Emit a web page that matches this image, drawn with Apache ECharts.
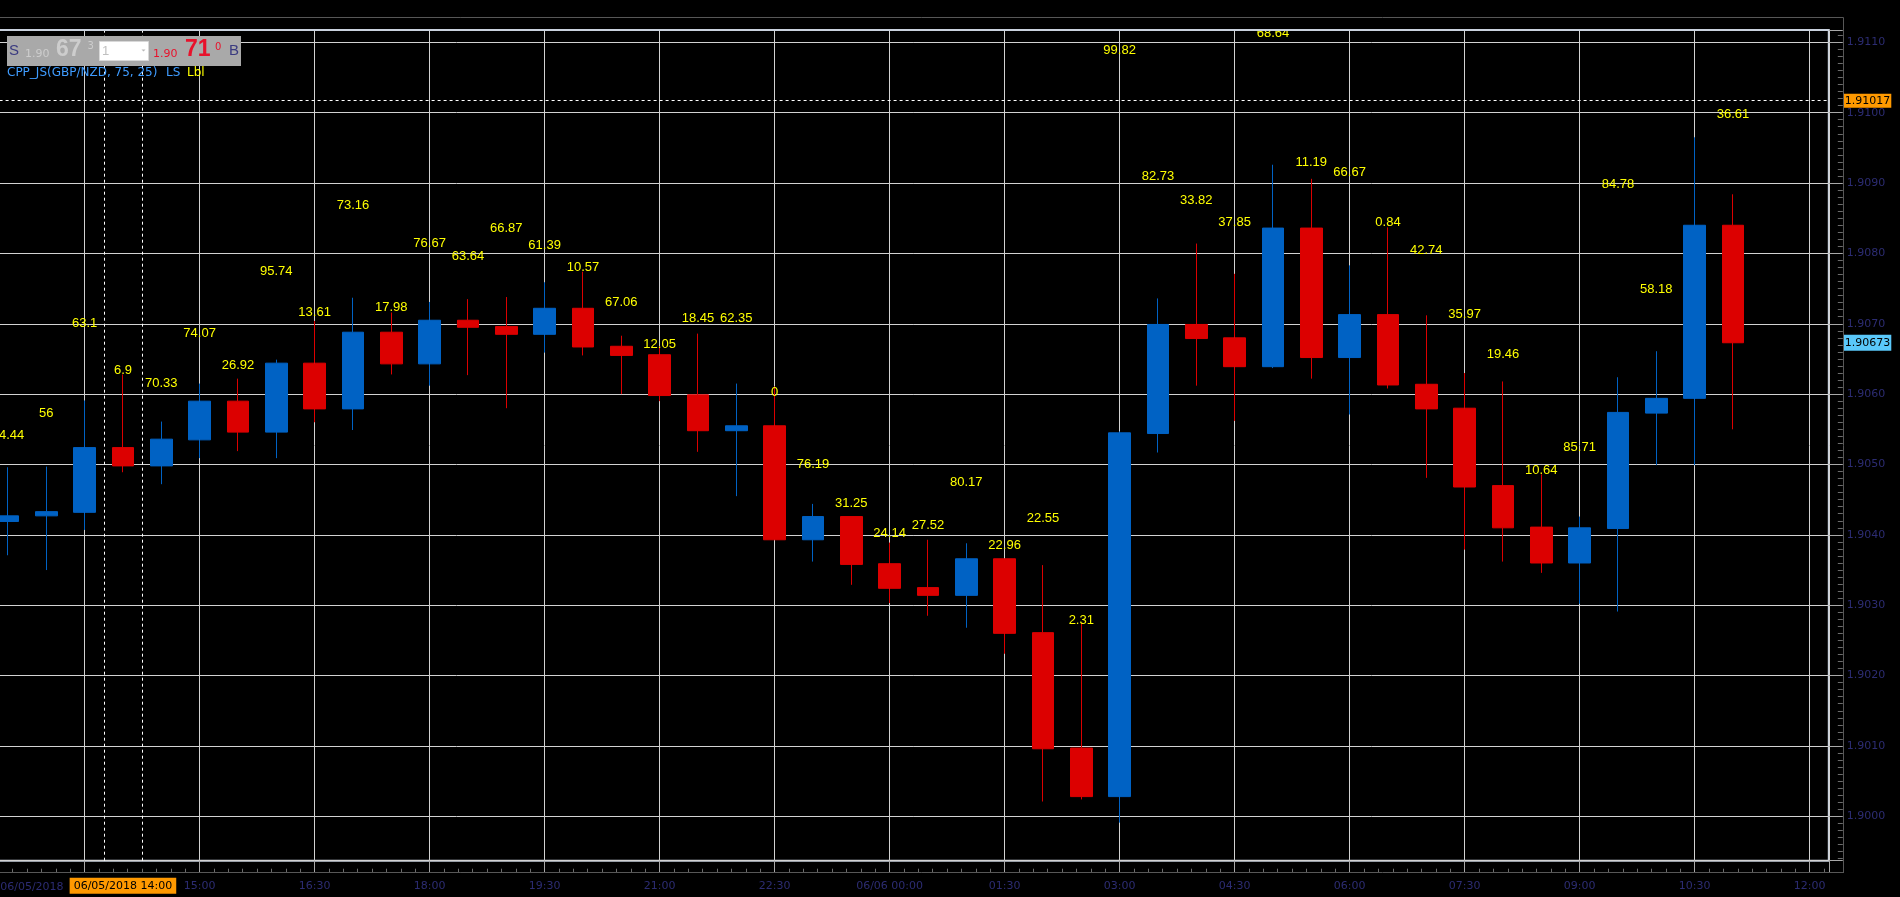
<!DOCTYPE html>
<html>
<head>
<meta charset="utf-8">
<script src="https://cdn.jsdelivr.net/npm/echarts@6.0.0/dist/echarts.min.js"></script>
<style>
html,body{margin:0;padding:0;background:#000;}
#chart{width:1900px;height:897px;}
</style>
</head>
<body>
<div id="chart"></div>
<script>
// ---- data (30-minute GBP/NZD candles) ----
const times = ['12:30','13:00','13:30','14:00','14:30','15:00','15:30','16:00','16:30','17:00','17:30','18:00','18:30','19:00','19:30','20:00','20:30','21:00','21:30','22:00','22:30','23:00','23:30',
               '00:00','00:30','01:00','01:30','02:00','02:30','03:00','03:30','04:00','04:30','05:00','05:30','06:00','06:30','07:00','07:30','08:00','08:30','09:00','09:30','10:00','10:30','11:00'];
const opens  = [1.90419,1.90427,1.90432,1.90524,1.90498,1.90535,1.90590,1.90546,1.90644,1.90579,1.90688,1.90643,1.90705,1.90696,1.90685,1.90722,1.90668,1.90656,1.90599,1.90548,1.90555,1.90393,1.90426,
                1.90359,1.90325,1.90314,1.90366,1.90261,1.90097,1.90028,1.90544,1.90699,1.90680,1.90639,1.90836,1.90652,1.90713,1.90614,1.90580,1.90470,1.90411,1.90360,1.90409,1.90573,1.90594,1.90840];
const closes = [1.90427,1.90433,1.90524,1.90498,1.90536,1.90590,1.90546,1.90644,1.90579,1.90688,1.90643,1.90705,1.90695,1.90685,1.90722,1.90667,1.90655,1.90598,1.90548,1.90555,1.90393,1.90426,1.90358,
                1.90324,1.90314,1.90366,1.90260,1.90096,1.90028,1.90545,1.90699,1.90679,1.90639,1.90836,1.90652,1.90713,1.90613,1.90579,1.90468,1.90410,1.90360,1.90410,1.90574,1.90594,1.90840,1.90673];
const highs  = [1.90496,1.90497,1.90591,1.90628,1.90561,1.90615,1.90622,1.90649,1.90704,1.90737,1.90716,1.90731,1.90735,1.90738,1.90759,1.90774,1.90683,1.90668,1.90686,1.90615,1.90611,1.90444,1.90426,
                1.90389,1.90393,1.90388,1.90366,1.90357,1.90275,1.90547,1.90736,1.90814,1.90771,1.90926,1.90906,1.90783,1.90837,1.90712,1.90630,1.90618,1.90486,1.90426,1.90624,1.90661,1.90965,1.90884];
const lows   = [1.90371,1.90350,1.90407,1.90489,1.90472,1.90509,1.90519,1.90509,1.90560,1.90549,1.90628,1.90612,1.90627,1.90580,1.90659,1.90655,1.90600,1.90590,1.90518,1.90455,1.90393,1.90362,1.90329,
                1.90303,1.90285,1.90268,1.90231,1.90021,1.90024,1.89991,1.90517,1.90612,1.90562,1.90637,1.90622,1.90571,1.90608,1.90481,1.90379,1.90362,1.90346,1.90302,1.90291,1.90499,1.90499,1.90550];
// indicator labels (text and price level they are printed at)
const labelTexts  = ['14.44','56','63.1','6.9','70.33','74.07','26.92','95.74','13.61','73.16','17.98','76.67','63.64','66.87','61.39','10.57','67.06','12.05','18.45','62.35','0','76.19','31.25',
                     '24.14','27.52','80.17','22.96','22.55','2.31','99.82','82.73','33.82','37.85','68.64','11.19','66.67','0.84','42.74','35.97','19.46','10.64','85.71','84.78','58.18',null,'36.61'];
const labelLevels = [1.90542,1.90572,1.90700,1.90634,1.90615,1.90686,1.90641,1.90774,1.90716,1.90868,1.90723,1.90814,1.90795,1.90836,1.90811,1.90780,1.90730,1.90671,1.90707,1.90707,1.90602,1.90500,1.90445,
                     1.90402,1.90414,1.90475,1.90385,1.90424,1.90279,1.91088,1.90909,1.90875,1.90844,1.91113,1.90929,1.90915,1.90844,1.90804,1.90713,1.90657,1.90492,1.90524,1.90898,1.90749,null,1.90998];
// axis tick labels every 1.5h starting at 13:30
const tickLabels = ['', '15:00','16:30','18:00','19:30','21:00','22:30','06/06 00:00','01:30','03:00','04:30','06:00','07:30','09:00','10:30','12:00'];
const dayLabel = '06/05/2018';
const selectedTime = '14:00';
const crossPrice = 1.91017;
const priceRange = [1.899369, 1.911175];
const slotRange = [-3, 45.5];
const indicatorName = 'CPP_JS(GBP/NZD, 75, 25)';

// ---- build ----
const baseIdx = times.indexOf('13:30');
const candleData = times.map((t, j) => [j - baseIdx, opens[j], closes[j], lows[j], highs[j]]);
const lblPts = [], lblStr = [];
times.forEach((t, j) => {
  if (labelLevels[j] != null) { lblPts.push([j - baseIdx, labelLevels[j]]); lblStr.push(labelTexts[j]); }
});
const selSlot = times.indexOf(selectedTime) - baseIdx;
const lastClose = closes[closes.length - 1];

const BLUE = '#0062c4', RED = '#dc0000';
const FRAME = '#c9d1dd', GRIDC = '#d2d2d2', AXISC = '#575757', LABELC = '#2c2c72';
const AXFONT = 'DejaVu Sans';

const chart = echarts.init(document.getElementById('chart'));
const option = {
  backgroundColor: '#000',
  animation: false,
  grid: { left: -30.4, right: 71.2, top: 30, bottom: 36.3, show: true, borderColor: FRAME, borderWidth: 2,
          backgroundColor: 'transparent', containLabel: false, outerBoundsMode: 'none' },
  xAxis: {
    type: 'value', min: slotRange[0], max: slotRange[1], interval: 3, offset: 12,
    axisLine: { show: false, onZero: false },
    axisTick: { show: true, inside: true, length: 12, lineStyle: { color: '#a8a8a8' } },
    minorTick: { show: true, splitNumber: 8, length: 4, lineStyle: { color: '#6c6c6c' } },
    splitLine: { show: true, lineStyle: { color: GRIDC, width: 1 } },
    axisLabel: {
      color: LABELC, fontFamily: AXFONT, fontSize: 11, margin: 8,
      formatter: function (v) {
        const k = Math.round(v / 3);
        if (Math.abs(v - 3 * k) > 1e-6 || k < 0) return '';
        return tickLabels[k] || '';
      }
    }
  },
  yAxis: {
    type: 'value', position: 'right', min: priceRange[0], max: priceRange[1], splitNumber: 12, offset: 14, scale: true,
    axisLine: { show: false, onZero: false },
    axisTick: { show: true, inside: true, length: 14, lineStyle: { color: '#a8a8a8' } },
    minorTick: { show: true, splitNumber: 10, length: 5, lineStyle: { color: '#6c6c6c' } },
    splitLine: { show: true, lineStyle: { color: GRIDC, width: 1 } },
    axisLabel: { color: LABELC, fontFamily: AXFONT, fontSize: 11, margin: 4, showMinLabel: false, showMaxLabel: false,
      formatter: v => v.toFixed(4) }
  },
  series: [
    {
      type: 'candlestick',
      data: candleData,
      dimensions: ['slot', 'open', 'close', 'lowest', 'highest'],
      encode: { x: 'slot', y: ['open', 'close', 'lowest', 'highest'] },
      barWidth: 22,
      itemStyle: { color: BLUE, color0: RED, borderColor: BLUE, borderColor0: RED, borderWidth: 1 },
      markLine: {
        silent: true, symbol: ['none', 'none'], animation: false, precision: 6,
        data: [
          { xAxis: selSlot - 0.5, lineStyle: { color: '#ffffff', type: [3, 3], width: 1 }, label: { show: false } },
          { xAxis: selSlot + 0.5, lineStyle: { color: '#ffffff', type: [3, 3], width: 1 }, label: { show: false } },
          { xAxis: selSlot, lineStyle: { color: 'rgba(0,0,0,0)', width: 1 },
            label: { show: true, position: 'start', distance: 17, formatter: dayLabel + ' ' + selectedTime,
                     backgroundColor: '#ff9900', color: '#000', padding: [2, 4], fontFamily: AXFONT, fontSize: 11, lineHeight: 12 } },
          { yAxis: crossPrice, lineStyle: { color: '#ffffff', type: [3, 3], width: 1 },
            label: { show: true, position: 'end', distance: 15, formatter: crossPrice.toFixed(5),
                     backgroundColor: '#ff9900', color: '#000', padding: [1, 1], fontFamily: AXFONT, fontSize: 11, lineHeight: 12 } },
          { yAxis: lastClose, lineStyle: { color: 'rgba(0,0,0,0)', width: 1 },
            label: { show: true, position: 'end', distance: 15, formatter: lastClose.toFixed(5),
                     backgroundColor: '#5ac8fa', color: '#000', padding: [2, 1], fontFamily: AXFONT, fontSize: 11, lineHeight: 12 } }
        ]
      }
    },
    {
      type: 'scatter',
      data: lblPts,
      symbolSize: 1,
      silent: true,
      itemStyle: { color: 'rgba(0,0,0,0)' },
      label: { show: true, position: 'inside', color: '#ffff00', opacity: 1, fontFamily: 'Liberation Sans', fontSize: 13,
               formatter: p => lblStr[p.dataIndex] },
      z: 5
    }
  ],
  graphic: [
    // clip area above the frame
    { type: 'rect', silent: true, z: 100, shape: { x: 0, y: 0, width: 1900, height: 29 }, style: { fill: '#000' } },
    { type: 'line', silent: true, z: 101, shape: { x1: 0, y1: 30, x2: 1828.8, y2: 30 }, style: { stroke: FRAME, lineWidth: 2 } },
    // outer axis box
    { type: 'line', silent: true, z: 101, shape: { x1: 0, y1: 17.5, x2: 1843.5, y2: 17.5 }, style: { stroke: AXISC, lineWidth: 1 } },
    { type: 'line', silent: true, z: 101, shape: { x1: 1843.5, y1: 17.5, x2: 1843.5, y2: 873 }, style: { stroke: AXISC, lineWidth: 1 } },
    { type: 'line', silent: true, z: 101, shape: { x1: 0, y1: 872.5, x2: 1843.5, y2: 872.5 }, style: { stroke: AXISC, lineWidth: 1 } },
    // date at bottom-left
    { type: 'text', silent: true, z: 101, x: 63.6, y: 887, style: { text: dayLabel, fill: LABELC, font: '11px "DejaVu Sans"', textAlign: 'right', textVerticalAlign: 'middle' } },
    // one-click trading widget
    { type: 'rect', silent: true, z: 100, shape: { x: 7, y: 36, width: 234, height: 30 }, style: { fill: '#a9a9a9' } },
    { type: 'text', silent: true, z: 101, x: 9, y: 51.3, style: { text: 'S', fill: '#3a3a80', font: '15px "Liberation Sans"', textVerticalAlign: 'middle' } },
    { type: 'text', silent: true, z: 101, x: 25, y: 54, style: { text: '1.90', fill: '#cdcdcd', font: '11px "DejaVu Sans"', textVerticalAlign: 'middle' } },
    { type: 'text', silent: true, z: 101, x: 56, y: 50, style: { text: '67', fill: '#cdcdcd', font: 'bold 23px "Liberation Sans"', textVerticalAlign: 'middle' } },
    { type: 'text', silent: true, z: 101, x: 87.5, y: 46.5, style: { text: '3', fill: '#cdcdcd', font: '10px "DejaVu Sans"', textVerticalAlign: 'middle' } },
    { type: 'rect', silent: true, z: 101, shape: { x: 99.5, y: 41.5, width: 49, height: 19 }, style: { fill: '#ffffff', stroke: '#d8d8d8', lineWidth: 1 } },
    { type: 'text', silent: true, z: 102, x: 102, y: 51, style: { text: '1', fill: '#c0c0c0', font: '13px "Liberation Sans"', textVerticalAlign: 'middle' } },
    { type: 'polygon', silent: true, z: 102, shape: { points: [[141.5, 49.5], [145.5, 49.5], [143.5, 51.5]] }, style: { fill: '#b8b8b8' } },
    { type: 'text', silent: true, z: 101, x: 153, y: 54, style: { text: '1.90', fill: '#e8112b', font: '11px "DejaVu Sans"', textVerticalAlign: 'middle' } },
    { type: 'text', silent: true, z: 101, x: 185, y: 50, style: { text: '71', fill: '#e8112b', font: 'bold 23px "Liberation Sans"', textVerticalAlign: 'middle' } },
    { type: 'text', silent: true, z: 101, x: 215, y: 47, style: { text: '0', fill: '#e8112b', font: '10px "DejaVu Sans"', textVerticalAlign: 'middle' } },
    { type: 'text', silent: true, z: 101, x: 229, y: 51.3, style: { text: 'B', fill: '#3a3a80', font: '15px "Liberation Sans"', textVerticalAlign: 'middle' } },
    // indicator legend
    { type: 'text', silent: true, z: 101, x: 7, y: 73.3, style: { text: indicatorName, fill: '#3f9cff', font: '12px "DejaVu Sans"', textVerticalAlign: 'middle' } },
    { type: 'text', silent: true, z: 101, x: 166, y: 73.3, style: { text: 'LS', fill: '#3f9cff', font: '12px "DejaVu Sans"', textVerticalAlign: 'middle' } },
    { type: 'text', silent: true, z: 101, x: 187, y: 73.3, style: { text: 'Lbl', fill: '#ffff00', font: '12px "DejaVu Sans"', textVerticalAlign: 'middle' } }
  ]
};
chart.setOption(option);
</script>
</body>
</html>
